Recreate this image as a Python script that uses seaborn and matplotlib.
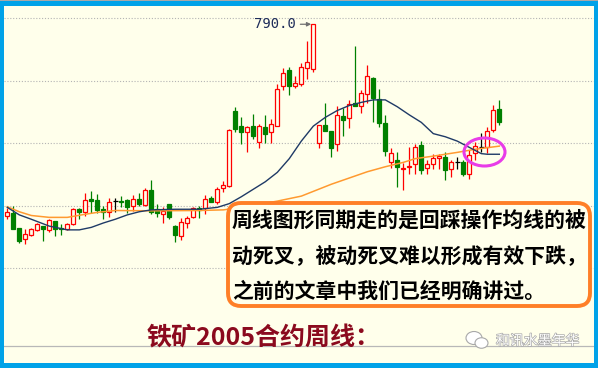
import numpy as np
import pandas as pd
import matplotlib
matplotlib.use("Agg")
import matplotlib.pyplot as plt
import seaborn as sns
from matplotlib.patches import FancyBboxPatch, Ellipse, Rectangle
import matplotlib.patheffects as pe

# ---------------- data (weekly candles, iron ore 2005) ----------------
opens = [482.7, 488.0, 464.0, 445.9, 453.3, 461.3, 466.7, 461.3, 475.2, 464.0,
         463.0, 469.9, 493.9, 489.1, 509.9, 508.3, 493.9, 489.1, 506.7, 507.2,
         508.3, 499.2, 510.4, 500.8, 525.3, 494.4, 486.4, 502.4, 467.8, 451.7,
         471.5, 481.1, 496.5, 495.5, 512.0, 506.1, 527.5, 531.7, 651.2, 626.7,
         617.1, 627.2, 602.1, 625.6, 618.1, 626.7, 691.7, 716.8, 690.7, 693.9,
         719.5, 718.4, 600.6, 628.8, 619.7, 597.9, 643.2, 639.5, 663.5, 659.7,
         678.4, 704.5, 669.9, 632.5, 570.1, 572.8, 558.4, 561.0, 565.9, 596.8,
         559.5, 565.9, 575.5, 577.1, 557.9, 570.1, 569.1, 549.9, 584.0, 594.1,
         593.1, 620.8, 653.9]
highs = [495.5, 498.7, 464.0, 462.4, 464.0, 472.5, 466.7, 478.4, 475.2, 470.0,
         471.5, 496.5, 495.5, 520.0, 523.2, 517.9, 499.2, 511.5, 511.5, 515.2,
         510.0, 516.8, 519.5, 528.5, 541.3, 502.4, 497.6, 502.4, 469.0, 479.5,
         483.2, 497.6, 499.7, 516.8, 515.2, 529.6, 539.7, 622.4, 658.1, 641.6,
         627.7, 646.4, 630.9, 644.8, 638.4, 693.9, 720.5, 721.1, 708.0, 727.5,
         763.7, 790.0, 628.8, 664.0, 620.0, 659.7, 656.5, 668.3, 755.2, 684.8,
         724.3, 705.0, 685.9, 644.8, 591.5, 586.1, 567.5, 594.1, 597.9, 603.2,
         572.8, 582.4, 582.4, 586.1, 572.8, 577.1, 572.8, 588.8, 601.1, 615.5,
         625.1, 660.8, 668.8]
lows = [478.9, 462.0, 440.5, 438.4, 451.2, 459.2, 443.7, 458.1, 451.7, 452.8,
        460.8, 469.0, 477.9, 483.2, 488.5, 488.5, 478.9, 481.6, 489.1, 498.1,
        488.5, 491.2, 499.2, 499.2, 485.9, 482.1, 471.5, 478.4, 442.1, 445.4,
        463.5, 479.5, 479.5, 485.9, 505.1, 501.9, 522.1, 530.0, 617.1, 597.9,
        585.1, 606.0, 592.0, 600.0, 600.0, 626.7, 684.8, 676.8, 688.0, 691.7,
        702.4, 713.1, 591.5, 619.0, 578.1, 587.2, 611.7, 623.5, 659.7, 648.5,
        663.5, 633.0, 626.1, 579.2, 559.5, 530.1, 524.8, 549.9, 550.4, 549.9,
        550.4, 557.9, 557.9, 540.8, 545.1, 557.9, 547.7, 541.9, 572.8, 586.1,
        584.5, 618.1, 628.8]
closes = [489.1, 463.0, 443.7, 453.9, 461.9, 469.9, 462.4, 476.3, 463.0, 461.9,
          469.9, 494.4, 490.1, 508.3, 507.2, 492.8, 489.1, 505.1, 506.7, 506.2,
          497.0, 510.4, 503.0, 525.3, 490.1, 487.5, 491.2, 482.1, 452.8, 473.1,
          479.5, 495.5, 492.8, 510.4, 506.1, 526.4, 532.3, 620.8, 622.9, 617.1,
          625.6, 611.7, 626.7, 613.9, 629.9, 686.4, 711.5, 691.7, 695.5, 721.1,
          729.1, 790.0, 628.8, 619.2, 592.5, 644.8, 636.8, 661.9, 659.7, 679.5,
          706.7, 671.5, 631.5, 587.7, 583.5, 562.1, 559.5, 562.7, 593.1, 556.8,
          565.9, 575.5, 579.2, 556.8, 569.1, 570.1, 549.9, 580.3, 595.7, 594.1,
          619.2, 652.3, 634.1]

# moving-average lines (candle index -> value)
ma_short_idx = [0, 2, 4, 7, 10, 12, 14, 16, 18, 20, 22, 24, 28, 32, 35, 37, 39, 41,
                43, 45, 47, 49, 51, 53, 55, 57, 59, 61, 63, 65, 67, 69, 71, 73, 75,
                77, 79, 80, 82]
ma_short = [497, 485, 478, 467, 461, 461, 465, 472, 478, 485, 490, 493, 494, 494,
            497, 503, 514, 526, 538, 553, 575, 603, 627, 641, 652, 660, 665, 669,
            669, 658, 645, 633, 615, 610, 603, 593, 583, 582, 582]
ma_long_idx = [0, 2, 4, 7, 10, 13, 15, 18, 24, 32, 36, 39, 45, 49, 54, 60, 63, 66,
               68, 71, 75, 78, 82]
ma_long = [498, 490, 484, 481, 481, 486, 489, 492, 491.5, 492, 493, 497, 507, 515,
           534, 554, 562, 569, 575, 579, 585, 590, 595]

grid_levels = [800, 700, 600, 500, 400]
base_level = 275.2
high_label = "790.0"
title = "铁矿2005合约周线："
note_lines = ["周线图形同期走的是回踩操作均线的被",
              "动死叉，被动死叉难以形成有效下跌，",
              "之前的文章中我们已经明确讲过。"]
watermark = "和讯水墨年华"

# ---------------- drawing ----------------
BG = "#FFFFEB"
RED = "#FF0000"
GREEN = "#008000"
CJK = ["Noto Sans CJK SC", "DejaVu Sans"]

df = pd.DataFrame({"o": opens, "h": highs, "l": lows, "c": closes})
df["i"] = np.arange(len(df))

fig = plt.figure(figsize=(5.98, 3.68), dpi=100, facecolor="#00A2E8")
ax = fig.add_axes([4 / 598, 5 / 368, 590 / 598, 357 / 368])
ax.set_facecolor(BG)
ax.set_xlim(-0.55, -0.55 + 590 / 6)
ax.set_ylim(248, 819.2)
for s in ax.spines.values():
    s.set_visible(False)
ax.set_xticks([])
ax.set_yticks([])

for g in grid_levels:
    ax.axhline(g, color="#B4B4B4", lw=0.8, ls=(0, (1, 1.6)), zorder=1)
ax.axhline(base_level, color="#B8B8B8", lw=0.9, zorder=1)

up = df.c > df.o
down = df.c < df.o
flat = df.c == df.o
wick_col = np.where(up, RED, np.where(down, GREEN, "#000000"))
ax.vlines(df.i, df.l, df.h, colors=wick_col, lw=0.9, zorder=2)
bot = np.minimum(df.o, df.c)
hgt = np.maximum((df.c - df.o).abs(), 1.2)
ax.bar(df.i[up], hgt[up], bottom=bot[up], width=0.66, facecolor=BG,
       edgecolor=RED, lw=0.9, zorder=3)
ax.bar(df.i[down], hgt[down], bottom=bot[down], width=0.66, facecolor=GREEN,
       edgecolor=GREEN, lw=0.9, zorder=3)
ax.hlines(df.o[flat], df.i[flat] - 0.42, df.i[flat] + 0.42, colors="#000000",
          lw=0.9, zorder=3)

sns.lineplot(x=ma_long_idx, y=ma_long, ax=ax, color="#FF9A30", lw=1.1, zorder=4)
sns.lineplot(x=ma_short_idx, y=ma_short, ax=ax, color="#1F3A66", lw=1.0, zorder=4)
ax.set_xlabel("")
ax.set_ylabel("")

imax = int(np.argmax(highs))
ax.annotate(high_label, xy=(imax - 0.35, highs[imax]), xytext=(-15, 0),
            textcoords="offset pixels", ha="right", va="center",
            fontsize=10, family="DejaVu Sans Mono", color="#1F2D5A",
            arrowprops=dict(arrowstyle="-|>", color="#707070", lw=0.9,
                            mutation_scale=6, shrinkA=1, shrinkB=0),
            zorder=5)

# overlay in pixel coordinates for annotations
ov = fig.add_axes([0, 0, 1, 1])
ov.set_xlim(0, 598)
ov.set_ylim(368, 0)
ov.axis("off")
ov.patch.set_alpha(0)

ov.add_patch(Rectangle((0, 0), 598, 1.2, facecolor="#A8A8A8", edgecolor="none"))

ov.add_patch(Ellipse((484.5, 152), 41, 28, facecolor="none",
                     edgecolor="#E83CE8", lw=2.2))

box = FancyBboxPatch((228, 203), 362, 103,
                     boxstyle="round,pad=0,rounding_size=13",
                     facecolor=BG, edgecolor="#FF7F27", lw=2.8, zorder=5)
ov.add_patch(box)
for k, line in enumerate(note_lines):
    ov.text(232, 220 + 35.5 * k, line, fontsize=15, fontweight="bold",
            color="black", family=CJK, ha="left", va="center", zorder=6)

ov.text(147, 338, title, fontsize=18, fontweight="bold", color="#8B0A1E",
        family=CJK, ha="left", va="center")

ov.add_patch(Ellipse((474, 338), 16, 13, facecolor="white", edgecolor="#A8A8A8", lw=0.8))
ov.add_patch(Ellipse((481.5, 343), 13, 10.5, facecolor="white", edgecolor="#A8A8A8", lw=0.8))
ov.text(496, 341, watermark, fontsize=10, color="white", family=CJK,
        ha="left", va="center",
        path_effects=[pe.withStroke(linewidth=1.0, foreground="#A8A8A8")])

fig.savefig("out.png", dpi=100, facecolor=fig.get_facecolor())
